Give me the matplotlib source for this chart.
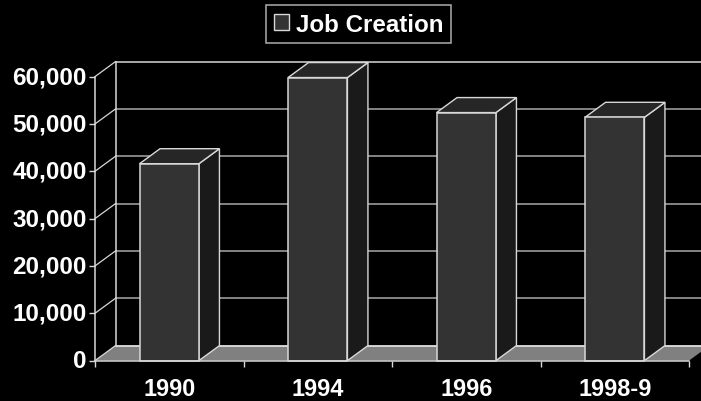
import matplotlib
matplotlib.use('Agg')
import matplotlib.pyplot as plt
from matplotlib.patches import Polygon, Patch

# values
years = ['1990', '1994', '1996', '1998-9']
jobs = [41600, 59800, 52400, 51400]
y_ticks = [0, 10000, 20000, 30000, 40000, 50000, 60000]
y_labels = ['0', '10,000', '20,000', '30,000', '40,000', '50,000', '60,000']

W, H = 701, 402
plt.rcParams['font.family'] = ['Liberation Sans', 'DejaVu Sans']
plt.rcParams['ytick.alignment'] = 'center'
fig = plt.figure(figsize=(W / 100, H / 100), dpi=100, facecolor='black')

# front plane of the fake 3d box, in pixels
left, right, bottom, top = 95, 689, 361.6, 77.6
ax = fig.add_axes([left / W, 1 - bottom / H, (right - left) / W, (bottom - top) / H])
ax.set_facecolor('none')
ax.set_xlim(0, len(years))
ax.set_ylim(0, 60000)

# depth of the box in data units
dx = 20.5 / ((right - left) / len(years))
dy = 15 / (bottom - top) * 60000
line_col = '#d8d8d8'
grid_col = '#a8a8a8'
n = len(years)
bar_w = 0.4

# floor
ax.add_patch(Polygon([(0, 0), (n, 0), (n + dx, dy), (dx, dy)], closed=True, facecolor='#808080',
                     edgecolor='none', clip_on=False, zorder=1))
ax.plot([dx, n + dx], [dy, dy], color='#e8e8e8', lw=1.2, clip_on=False, zorder=1.5)

# back wall gridlines and the slanted lines to the y axis
for t in y_ticks[1:]:
    ax.plot([dx, n + dx], [t + dy, t + dy], color=grid_col if t < 60000 else line_col, lw=1.1,
            clip_on=False, zorder=1.5)
    ax.plot([0, dx], [t, t + dy], color=line_col, lw=0.9, clip_on=False, zorder=1.5)
ax.plot([0, dx], [0, dy], color=line_col, lw=0.9, clip_on=False, zorder=1.5)
ax.plot([dx, dx], [dy, 60000 + dy], color=line_col, lw=1.1, clip_on=False, zorder=1.5)

# bars
xs = [i + 0.5 for i in range(n)]
bars = ax.bar(xs, jobs, width=bar_w, color='#333333', edgecolor=line_col, linewidth=1.1,
              clip_on=False, zorder=4, label='Job Creation')
for x, v in zip(xs, jobs):
    x0, x1 = x - bar_w / 2, x + bar_w / 2
    ax.add_patch(Polygon([(x1, 0), (x1 + dx, dy), (x1 + dx, v + dy), (x1, v)], closed=True,
                         facecolor='#1a1a1a', edgecolor=line_col, lw=1.0, clip_on=False, zorder=3))
    ax.add_patch(Polygon([(x0, v), (x1, v), (x1 + dx, v + dy), (x0 + dx, v + dy)], closed=True,
                         facecolor='#262626', edgecolor=line_col, lw=1.0, clip_on=False, zorder=3))

# axes
for s in ['top', 'right']:
    ax.spines[s].set_visible(False)
for s in ['left', 'bottom']:
    ax.spines[s].set_color(line_col)
    ax.spines[s].set_linewidth(1.1)
    ax.spines[s].set_zorder(5)
ax.set_yticks(y_ticks)
ax.set_yticklabels(y_labels, fontsize=17.5, fontweight='bold', color='white')
ax.set_xticks(range(n + 1))
ax.set_xticklabels([])
ax.set_xticks(xs, minor=True)
ax.set_xticklabels(years, minor=True, fontsize=16.9, fontweight='bold', color='white')
ax.tick_params(axis='y', length=4, width=1, color=line_col, pad=2)
ax.tick_params(axis='x', which='major', length=4, width=1, color=line_col)
ax.tick_params(axis='x', which='minor', length=0, pad=12)

# legend
swatch = Patch(facecolor='#333333', edgecolor=line_col, linewidth=1)
leg = fig.legend([swatch], ['Job Creation'], loc='center', bbox_to_anchor=(358.5 / W, 1 - 25 / H),
                 fontsize=17.4, frameon=True, fancybox=False, facecolor='black', edgecolor=line_col,
                 handlelength=0.64, handleheight=0.64, handletextpad=0.29, borderpad=0.3, borderaxespad=0)
leg.get_frame().set_linewidth(1.1)
for t in leg.get_texts():
    t.set_color('white')
    t.set_fontweight('bold')

fig.savefig('out.png', dpi=100, facecolor='black')
